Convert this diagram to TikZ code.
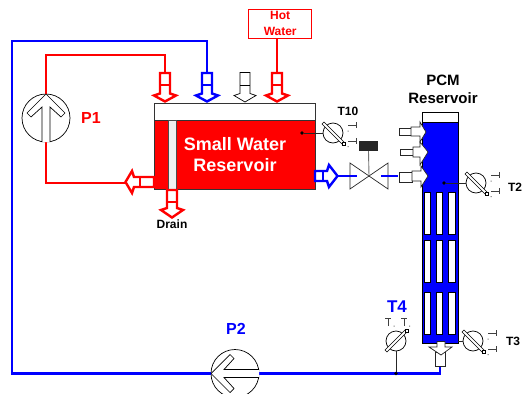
\documentclass[tikz,border=0pt]{standalone}
\usepackage{fontspec}
\setmainfont{Liberation Sans}
\definecolor{pblue}{RGB}{0,0,255}
\definecolor{pred}{RGB}{255,0,0}
\tikzset{
  redpipe/.style={draw=pred,line width=2.4pt},
  bluepipe/.style={draw=pblue,line width=2.7pt},
  pumpcircle/.style={circle,draw=black,fill=white,line width=0.7pt,inner sep=0pt,minimum size=48pt},
  sensorcircle/.style={circle,draw=black,fill=white,line width=0.7pt,inner sep=0pt,minimum size=20pt},
  wire/.style={draw=black!85,line width=0.8pt},
  junction/.style={circle,fill=black,inner sep=0pt,minimum size=3.6pt},
  fin/.style={rectangle,draw=black,fill=white,line width=0.7pt,inner sep=0pt,minimum width=6.5pt,minimum height=42pt},
  label/.style={font=\bfseries,inner sep=0pt,align=center},
}
% down-pointing hollow block arrow: x, y, rotation, colour, line width, cross, barb, tip
\newcommand{\blockarrow}[8]{%
  \begin{scope}[shift={(#1,#2)},rotate=#3]
    \draw[draw=#4,fill=white,line width=#5,line join=miter]
      (-5,0)--(5,0)--(5,#7-2)--(11,#7)--(0,#8)--(-11,#7)--(-5,#7-2)--cycle;
    \draw[draw=#4,line width=#5] (-5,#6)--(5,#6);
  \end{scope}}
% pump arrow, pointing up from the centre of a pump
\newcommand{\pumparrow}[3]{%
  \begin{scope}[shift={(#1,#2)},rotate=#3]
    \draw[black,line width=0.7pt,line join=miter,fill=white]
      (-4,24)--(-4,-11)--(-15,-1)--(-19,-5)--(0,-24)--(19,-5)--(15,-1)--(4,-11)--(4,24);
  \end{scope}}
% sensor dial decoration
\newcommand{\sensordial}[3]{%
  \begin{scope}[shift={(#1,#2)},rotate=#3]
    \draw[black,line width=0.6pt,fill=white] (-9,-11)--(-11,-9)--(9,11)--(11,9)--cycle;
    \draw[black,line width=0.6pt,fill=white] (9,9) rectangle (12,12);
    \draw[black!75,line width=0.7pt] (15,-8)--(23,-8) (23,-11)--(23,-5) (15,8)--(23,8) (23,5)--(23,11);
    \fill[black!60] (14.5,-2.5) rectangle (15.5,-1.5) (14.5,13) rectangle (15.5,14);
  \end{scope}}
\begin{document}
\begin{tikzpicture}[x=1pt,y=-1pt]
\useasboundingbox (0,0) rectangle (523,394);
\begin{scope}
\clip (0,0) rectangle (523,394);

% pipes
\node[pumpcircle] (p1) at (46,118) {};
\node[pumpcircle] (p2) at (235,373.5) {};
\coordinate (bluein) at (207,72);
\coordinate (redin) at (165,72);
\coordinate (redout) at (125,183);
\coordinate (hotin) at (277,72);
\coordinate (pcmout) at (440,366);
\coordinate (tee) at (396,373.5);
\draw[bluepipe,line join=miter] (p2.west) -- (12,373.5) -- (12,41) -- (207,41) -- (bluein);
\draw[bluepipe,line join=miter] (p2.east) -- (440,373.5) -- (pcmout);
\draw[redpipe,line join=miter] (p1.north) -- (46,55) -- (165,55) -- (redin);
\draw[redpipe,line join=miter] (p1.south) -- (46,183) -- (redout);

% small reservoir
\node[rectangle,draw=black!80,fill=pred,line width=0.8pt,minimum width=160.5pt,minimum height=69pt,inner sep=0pt] (res) at (234.75,154.5) {};
\node[rectangle,draw=black!80,fill=white,line width=0.8pt,minimum width=160.5pt,minimum height=17pt,inner sep=0pt] (restop) at (234.75,111.5) {};
\node[rectangle,draw=black!70,fill=black!6,line width=0.7pt,minimum width=8pt,minimum height=69pt,inner sep=0pt] (tube) at (172,154.5) {};
\node[label,text=white,font=\bfseries\fontsize{18}{21}\selectfont] (reslabel) at (235,155) {Small Water\\Reservoir};

% arrows into the small reservoir
\blockarrow{165}{73}{0}{pred}{2.4pt}{12}{22.5}{28.5}
\blockarrow{207}{73}{0}{pblue}{2.4pt}{12}{22.5}{28.5}
\blockarrow{245}{72.5}{0}{black}{0.7pt}{13}{23}{29.5}
\blockarrow{277}{73}{0}{pred}{2.4pt}{12}{22.5}{28.5}
\blockarrow{172}{190}{0}{pred}{2.4pt}{12}{20}{27.5}
\blockarrow{154}{182}{-90}{pred}{2.4pt}{14}{22}{28.5}
\blockarrow{315}{176}{90}{pblue}{2.4pt}{8}{14}{22.5}

% hot water
\node[rectangle,draw=pred,fill=white,line width=0.7pt,minimum width=63pt,minimum height=29pt,inner sep=0pt,text=pred,align=center,font=\bfseries\fontsize{12}{16}\selectfont] (hot) at (280.2,23.8) {Hot\\Water};
\draw[redpipe] (277,38.3) -- (hotin);

% pumps
\pumparrow{46}{118}{0}
\pumparrow{235}{373.5}{90}
\node[label,text=pred,font=\bfseries\fontsize{16}{18}\selectfont] (p1label) at (91,118) {P1};
\node[label,text=pblue,font=\bfseries\fontsize{16}{18}\selectfont] (p2label) at (236,329) {P2};

% labels
\node[label,font=\bfseries\fontsize{12}{14}\selectfont] (drain) at (172,224.5) {Drain};
\node[label,font=\bfseries\fontsize{12}{14}\selectfont] (t10label) at (348,111) {T10};
\node[label,font=\bfseries\fontsize{12}{14}\selectfont] (t2label) at (515,187) {T2};
\node[label,font=\bfseries\fontsize{12}{14}\selectfont] (t3label) at (513,341) {T3};
\node[label,text=pblue,font=\bfseries\fontsize{17}{19}\selectfont] (t4label) at (397,307) {T4};
\node[label,font=\bfseries\fontsize{15}{18}\selectfont] (pcmlabel) at (443,89) {PCM\\Reservoir};

% valve
\coordinate (vc) at (369,176);
\draw[bluepipe] (338,176) -- (350,176);
\draw[black!85,line width=0.7pt,line join=miter] (vc) -- (350,163) -- (350,189) -- cycle;
\draw[black!85,line width=0.7pt,line join=miter] (vc) -- (388,163) -- (388,189) -- cycle;
\draw[bluepipe] (350,176) -- (357,176);
\draw[bluepipe] (381,176) -- (398,176);
\node[rectangle,fill=black!85,minimum width=19pt,minimum height=10pt,inner sep=0pt] (act) at (368.5,146) {};
\draw[draw=black!55,line width=0.9pt] (act.south) -- (vc);

% PCM reservoir
\node[rectangle,draw=black,fill=pblue,line width=0.9pt,minimum width=36pt,minimum height=231pt,inner sep=0pt] (pcm) at (440,227.5) {};
\node[rectangle,draw=black,fill=white,line width=0.9pt,minimum width=36pt,minimum height=10pt,inner sep=0pt] (pcmtop) at (440,117) {};
\foreach \cx/\col in {427.5/a,439.5/b,452/c}{
  \node[fin] (f\col1) at (\cx,213) {};
  \node[fin] (f\col2) at (\cx,261) {};
  \node[fin] (f\col3) at (\cx,313) {};
}
% side ports of the PCM reservoir
\begin{scope}[black!85,fill=white,line width=0.7pt,line join=miter]
  \draw[fill=white] (399,128) rectangle (411,135.5);
  \draw[fill=white] (411,127)--(420,127)--(420,122)--(426,132)--(420,142)--(420,136)--(411,136)--cycle;
  \draw[fill=white] (400,149) rectangle (413,155);
  \draw[fill=white] (413,147)--(420,147)--(420,142)--(428,152)--(420,165)--(420,157)--(413,157)--cycle;
  \draw[fill=white] (399,172) rectangle (412,182);
  \draw[fill=white] (412,171)--(421,171)--(421,166)--(428,176)--(421,187)--(421,181)--(412,181)--cycle;
\end{scope}
% bottom port
\draw[black!85,fill=white,line width=0.7pt] (435,352) rectangle (445.5,366);
\draw[black!85,fill=white,line width=0.7pt,line join=miter] (437,341.5)--(445,341.5)--(445,347)--(452,347)--(441,355)--(429,347)--(437,347)--cycle;

% sensors
\node[sensorcircle] (t10) at (333,133) {};
\node[sensorcircle] (t2) at (476,183) {};
\node[sensorcircle] (t3) at (473,341) {};
\node[sensorcircle] (t4) at (396,341) {};
\sensordial{333}{133}{0}
\sensordial{476}{183}{0}
\sensordial{473}{341}{0}
\sensordial{396}{341}{90}
\node[junction] (j10) at (302,133) {};
\node[junction] (j2) at (444,183) {};
\node[junction] (j4) at (tee) {};
\draw[wire] (j10) -- (t10);
\draw[wire] (j2) -- (t2);
\draw[wire] (458,341) -- (t3);
\draw[wire] (t4) -- (j4);
\end{scope}
\end{tikzpicture}
\end{document}
